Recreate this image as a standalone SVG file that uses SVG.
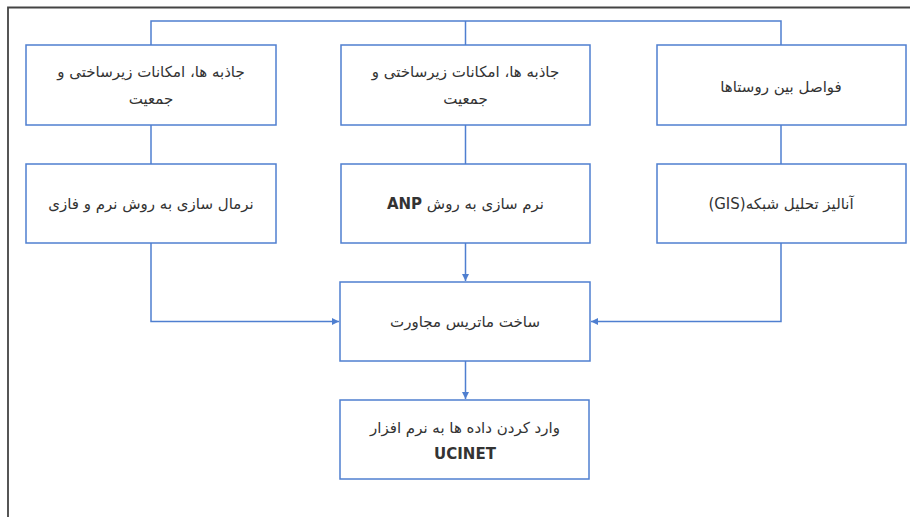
<svg xmlns="http://www.w3.org/2000/svg" width="910" height="517" viewBox="0 0 910 517">
<defs>
<style>
.box{fill:#fff;stroke:#4f7fd0;stroke-width:1.5}
.ln{fill:none;stroke:#4f7fd0;stroke-width:1.5}
.t{font-family:"DejaVu Sans","Noto Sans",sans-serif;font-size:15px;fill:#333;text-anchor:middle;direction:rtl;unicode-bidi:embed}
.lat{font-family:"DejaVu Sans","Noto Sans",sans-serif;font-weight:bold}
</style>
<marker id="ah" viewBox="0 0 8 8" refX="8" refY="4" markerWidth="7" markerHeight="7" markerUnits="userSpaceOnUse" orient="auto">
<path d="M0,0 L8,4 L0,8 z" fill="#4f7fd0"/>
</marker>
</defs>
<rect width="910" height="517" fill="#fff"/>
<path d="M8,517 V7.5 H910" fill="none" stroke="#444" stroke-width="1.8"/>
<g id="connectors">
<path class="ln" d="M151,45 V21 H781 V45"/>
<path class="ln" d="M465.5,21 V45"/>
<path class="ln" d="M151,125 V164"/>
<path class="ln" d="M465.5,125 V164"/>
<path class="ln" d="M781,125 V164"/>
<path class="ln" d="M151,243 V321.5 H339" marker-end="url(#ah)"/>
<path class="ln" d="M781,243 V321.5 H591" marker-end="url(#ah)"/>
<path class="ln" d="M465.5,243 V281" marker-end="url(#ah)"/>
<path class="ln" d="M465.5,361 V399" marker-end="url(#ah)"/>
</g>
<g id="n1">
<rect class="box" x="26" y="45" width="250" height="80"/>
<text class="t" x="151" y="77">جاذبه ها، امکانات زیرساختی و</text>
<text class="t" x="151" y="104">جمعیت</text>
</g>
<g id="n2">
<rect class="box" x="341" y="45" width="249" height="80"/>
<text class="t" x="465.5" y="77">جاذبه ها، امکانات زیرساختی و</text>
<text class="t" x="465.5" y="104">جمعیت</text>
</g>
<g id="n3">
<rect class="box" x="657" y="45" width="249" height="80"/>
<text class="t" x="781" y="92">فواصل بین روستاها</text>
</g>
<g id="n4">
<rect class="box" x="26" y="164" width="250" height="79"/>
<text class="t" x="151" y="209">نرمال سازی به روش نرم و فازی</text>
</g>
<g id="n5">
<rect class="box" x="341" y="164" width="249" height="79"/>
<text class="t" x="465.5" y="209">نرم سازی به روش <tspan class="lat">ANP</tspan></text>
</g>
<g id="n6">
<rect class="box" x="657" y="164" width="249" height="79"/>
<text class="t" x="781" y="209">آنالیز تحلیل شبکه(GIS)</text>
</g>
<g id="n7">
<rect class="box" x="340" y="282" width="250" height="79"/>
<text class="t" x="465" y="327">ساخت ماتریس مجاورت</text>
</g>
<g id="n8">
<rect class="box" x="340" y="400" width="249" height="79"/>
<text class="t" x="465" y="433">وارد کردن داده ها به نرم افزار</text>
<text class="t" x="465" y="459" style="font-weight:bold">UCINET</text>
</g>
</svg>
